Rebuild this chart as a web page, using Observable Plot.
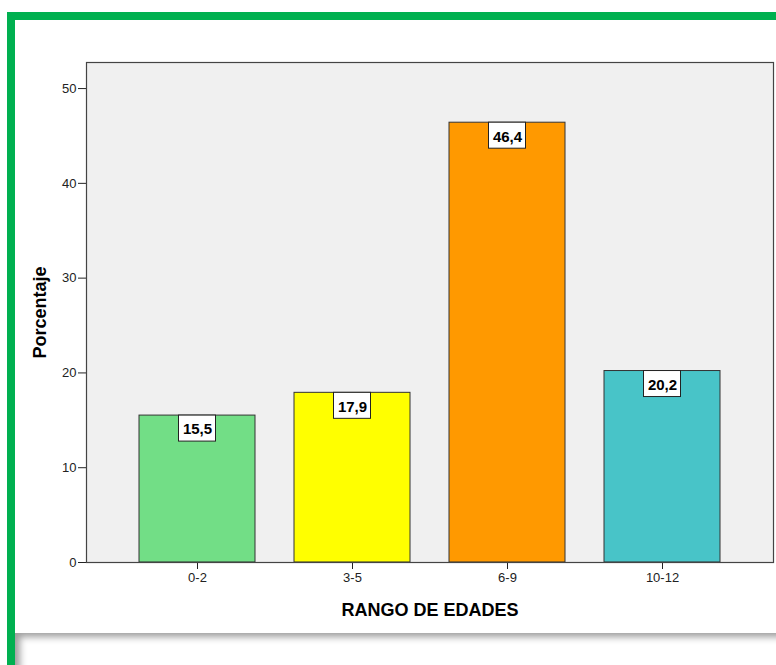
<!DOCTYPE html>
<html>
<head>
<meta charset="utf-8">
<script src="https://cdn.jsdelivr.net/npm/d3@7"></script>
<script src="https://cdn.jsdelivr.net/npm/@observablehq/plot@0.6"></script>
<style>
  html, body { margin: 0; padding: 0; background: #fff; width: 776px; height: 665px; overflow: hidden; }
  #wrap { position: relative; width: 776px; height: 665px; }
  #chart { position: absolute; left: 0; top: 0; }
  #chart svg g[aria-label*="axis"] text { font-size: 13px; fill: #222; }
  #green { position: absolute; left: 7px; top: 12px; width: 820px; height: 700px;
           border-top: 8px solid #00b050; border-left: 8px solid #00b050; pointer-events: none; }
  #panel { position: absolute; left: 15px; top: 633px; width: 820px; height: 80px;
           box-shadow: inset 7px 6px 7px -2px rgba(0,0,0,0.38); pointer-events: none; }
</style>
</head>
<body>
<div id="wrap">
  <div id="chart"></div>
  <div id="panel"></div>
  <div id="green"></div>
</div>
<script>
const categories = ["0-2", "3-5", "6-9", "10-12"];
const values = [15.5, 17.9, 46.4, 20.2];
const colors = ["#72de86", "#ffff00", "#ff9900", "#48c4c8"];
const yTicks = [0, 10, 20, 30, 40, 50];
const yTitle = ["Porcentaje"];
const xTitle = ["RANGO DE EDADES"];

const data = categories.map((c, i) => ({cat: c, value: values[i], color: colors[i]}));
const fmt = v => v.toFixed(1).replace(".", ",");

const font = "'Liberation Sans', Arial, sans-serif";

const plot = Plot.plot({
  width: 776,
  height: 665,
  marginLeft: 86,
  marginRight: 3,
  marginTop: 62,
  marginBottom: 103,
  style: {fontFamily: font, fontSize: "13px", color: "#222", background: "transparent"},
  x: {domain: categories, paddingInner: 0.25, paddingOuter: 0.34, align: 0.5,
      tickSize: 7, tickPadding: 3, label: null},
  y: {domain: [0, 52.75], ticks: yTicks, tickSize: 8, tickPadding: 2, label: null},
  marks: [
    Plot.frame({fill: "#f0f0f0", stroke: "none"}),
    Plot.barY(data, {x: "cat", y: "value", fill: "color", stroke: "#333", strokeWidth: 1}),
    Plot.frame({stroke: "#444", strokeWidth: 1.2}),
    Plot.barY(data, {x: "cat", y1: "value", y2: "value",
      insetLeft: 39.5, insetRight: 39.5, insetTop: 0, insetBottom: -26,
      fill: "#fff", stroke: "#222", strokeWidth: 1}),
    Plot.text(data, {x: "cat", y: "value", dy: 14, text: d => fmt(d.value),
      fontWeight: "bold", fontSize: 15, fill: "#000", lineAnchor: "middle"}),
    Plot.text(yTitle, {frameAnchor: "left", dx: -41, rotate: -90, text: d => d,
      lineAnchor: "bottom", textAnchor: "middle", fontWeight: "bold", fontSize: 18, fill: "#000"}),
    Plot.text(xTitle, {frameAnchor: "bottom", dy: 53, text: d => d,
      lineAnchor: "bottom", textAnchor: "middle", fontWeight: "bold", fontSize: 18, fill: "#000"})
  ]
});
document.getElementById("chart").appendChild(plot);
</script>
</body>
</html>
